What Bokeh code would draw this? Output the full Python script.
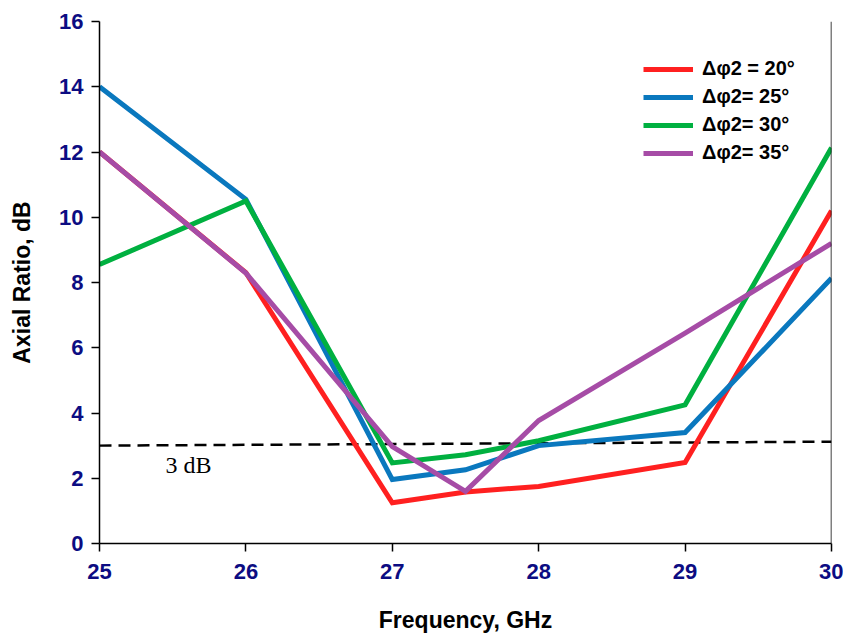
from bokeh.plotting import figure
from bokeh.models import Span, Legend, LegendItem, FixedTicker, Label
from bokeh.embed import file_html
from bokeh.resources import INLINE

freq = [25, 26, 27, 27.5, 28, 29, 30]
ar_20 = [12.0, 8.3, 1.25, 1.58, 1.75, 2.48, 10.2]
ar_25 = [14.0, 10.55, 1.96, 2.26, 3.0, 3.4, 8.13]
ar_30 = [8.55, 10.5, 2.47, 2.72, 3.15, 4.25, 12.13]
ar_35 = [12.0, 8.29, 2.97, 1.6, 3.77, 6.45, 9.2]
labels = ["Δφ2 = 20°", "Δφ2= 25°", "Δφ2= 30°", "Δφ2= 35°"]
colors = ["#FF2020", "#0A78BE", "#00B040", "#A64CA6"]
ref_x = [25, 30]
ref_y = [3.0, 3.12]
x_ticks = [25, 26, 27, 28, 29, 30]
y_ticks = [0, 2, 4, 6, 8, 10, 12, 14, 16]
x_title = "Frequency, GHz"
y_title = "Axial Ratio, dB"

p = figure(width=843, height=635, output_backend="svg", toolbar_location=None,
           x_range=(25, 30), y_range=(0, 16),
           min_border_left=99, min_border_right=12, min_border_top=21, min_border_bottom=91)
p.outline_line_color = None
p.xgrid.visible = False
p.ygrid.visible = False
p.background_fill_color = "white"

for ax in (p.xaxis, p.yaxis):
    ax.axis_line_color = "black"
    ax.axis_line_width = 1.5
    ax.major_tick_line_color = "black"
    ax.major_tick_line_width = 1.5
    ax.major_tick_in = 0
    ax.major_tick_out = 8
    ax.minor_tick_line_color = None
    ax.major_label_text_font = "Liberation Sans"
    ax.major_label_text_font_style = "bold"
    ax.major_label_text_font_size = "22px"
    ax.major_label_text_color = "#0C0C82"
    ax.axis_label_text_font = "Liberation Sans"
    ax.axis_label_text_font_style = "bold"
    ax.axis_label_text_font_size = "23px"
    ax.axis_label_text_color = "black"

p.xaxis.ticker = FixedTicker(ticks=x_ticks)
p.yaxis.ticker = FixedTicker(ticks=y_ticks)
p.xaxis.axis_label = x_title
p.yaxis.axis_label = y_title
p.xaxis.major_label_standoff = 12
p.xaxis.axis_label_standoff = 25
p.yaxis.major_label_standoff = 8
p.yaxis.axis_label_standoff = 21

p.add_layout(Span(location=30, dimension="height", line_color="black", line_width=1.5))

p.line(ref_x, ref_y, line_color="black", line_width=2.5, line_dash="12 7")
p.add_layout(Label(x=25.45, y=2.42, text="3 dB", text_font="Liberation Serif",
                   text_font_size="24px", text_color="black", text_baseline="middle"))

items = []
for ys, lab, col in zip([ar_20, ar_25, ar_30, ar_35], labels, colors):
    r = p.line(freq, ys, line_color=col, line_width=5, line_join="miter")
    items.append(LegendItem(label=lab, renderers=[r]))

leg = Legend(items=items, location=(544, 379))
leg.border_line_color = None
leg.background_fill_alpha = 0
leg.padding = 0
leg.margin = 0
leg.spacing = 5
leg.glyph_width = 50
leg.glyph_height = 20
leg.label_height = 20
leg.label_standoff = 9
leg.label_text_font = "Liberation Sans"
leg.label_text_font_style = "bold"
leg.label_text_font_size = "20px"
leg.label_text_color = "black"
p.add_layout(leg, "center")

open("out.html", "w").write(file_html(p, INLINE))
